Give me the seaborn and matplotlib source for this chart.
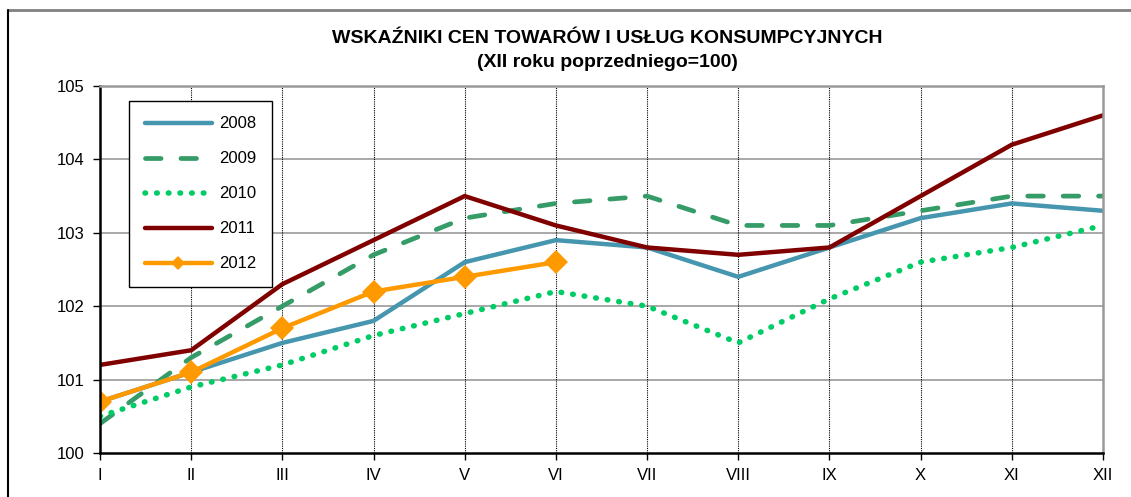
import numpy as np
import pandas as pd
import seaborn as sns
import matplotlib.pyplot as plt
from matplotlib.lines import Line2D

# miesiace i wskazniki (XII roku poprzedniego = 100)
miesiace = ['I', 'II', 'III', 'IV', 'V', 'VI', 'VII', 'VIII', 'IX', 'X', 'XI', 'XII']
w2008 = [100.7, 101.1, 101.5, 101.8, 102.6, 102.9, 102.8, 102.4, 102.8, 103.2, 103.4, 103.3]
w2009 = [100.4, 101.3, 102.0, 102.7, 103.2, 103.4, 103.5, 103.1, 103.1, 103.3, 103.5, 103.5]
w2010 = [100.5, 100.9, 101.2, 101.6, 101.9, 102.2, 102.0, 101.5, 102.1, 102.6, 102.8, 103.1]
w2011 = [101.2, 101.4, 102.3, 102.9, 103.5, 103.1, 102.8, 102.7, 102.8, 103.5, 104.2, 104.6]
w2012 = [100.7, 101.1, 101.7, 102.2, 102.4, 102.6]

sns.set_theme(style="white")
plt.rcParams['font.family'] = ['Liberation Sans', 'DejaVu Sans']
plt.rcParams['text.color'] = 'black'

fig = plt.figure(figsize=(11.31, 4.97), dpi=100)
ax = fig.add_axes([0.0884, 0.0885, 0.8868, 0.7385])

# grid
for y in [101, 102, 103, 104]:
    ax.axhline(y, color='#999999', lw=1.2, zorder=0)
for i in range(1, 11):
    ax.axvline(i, color='black', lw=0.8, ls=(0, (1, 1)), zorder=0)

serie = [
    ('2008', w2008, '#4596AE', '-', None, 3.2),
    ('2009', w2009, '#359B67', (0, (3.3, 4.2)), None, 3.4),
    ('2010', w2010, '#00CC66', (0, (0.1, 2.0)), None, 4.0),
    ('2011', w2011, '#800000', '-', None, 3.2),
    ('2012', w2012, '#FF9900', '-', 'D', 3.2),
]
for nazwa, wartosci, kolor, styl, znacznik, grubosc in serie:
    df = pd.DataFrame({'m': np.arange(len(wartosci)), 'v': wartosci})
    sns.lineplot(data=df, x='m', y='v', ax=ax, color=kolor, lw=grubosc,
                 linestyle=styl, marker=znacznik, markersize=12,
                 markeredgewidth=0, label=nazwa, solid_capstyle='round',
                 dash_capstyle='round', solid_joinstyle='miter')

ax.set_xlim(0, 11)
ax.set_ylim(100, 105)
ax.set_xticks(range(12))
ax.set_xticklabels(miesiace)
ax.set_yticks([100, 101, 102, 103, 104, 105])
ax.set_xlabel('')
ax.set_ylabel('')
ax.tick_params(axis='both', labelsize=12, colors='black', length=5, width=1,
               direction='out', bottom=True, left=True, pad=6)

for s in ['left', 'bottom']:
    ax.spines[s].set_color('black')
    ax.spines[s].set_linewidth(1.8)
for s in ['top', 'right']:
    ax.spines[s].set_color('#999999')
    ax.spines[s].set_linewidth(1.8)

leg = ax.legend(loc='upper left', bbox_to_anchor=(0.029, 0.96), fontsize=12,
                handlelength=4.0, labelspacing=1.2, borderpad=0.95,
                handletextpad=0.45, numpoints=1, markerscale=0.6,
                fancybox=False, framealpha=1, borderaxespad=0)
leg.get_frame().set_edgecolor('black')
leg.get_frame().set_linewidth(1)
for t in leg.get_texts():
    t.set_color('black')

fig.text(0.537, 0.923, 'WSKAŹNIKI CEN TOWARÓW I USŁUG KONSUMPCYJNYCH',
         ha='center', va='center', fontsize=14, fontweight='bold', color='black')
fig.text(0.537, 0.874, '(XII roku poprzedniego=100)',
         ha='center', va='center', fontsize=14, fontweight='bold', color='black')

# ramka wykresu
fig.add_artist(Line2D([0.007, 1.0], [0.98, 0.98], color='#808080', lw=2,
                      transform=fig.transFigure))
fig.add_artist(Line2D([0.007, 0.007], [0.0, 0.98], color='black', lw=1.5,
                      transform=fig.transFigure))

fig.savefig('out.png', dpi=100)
